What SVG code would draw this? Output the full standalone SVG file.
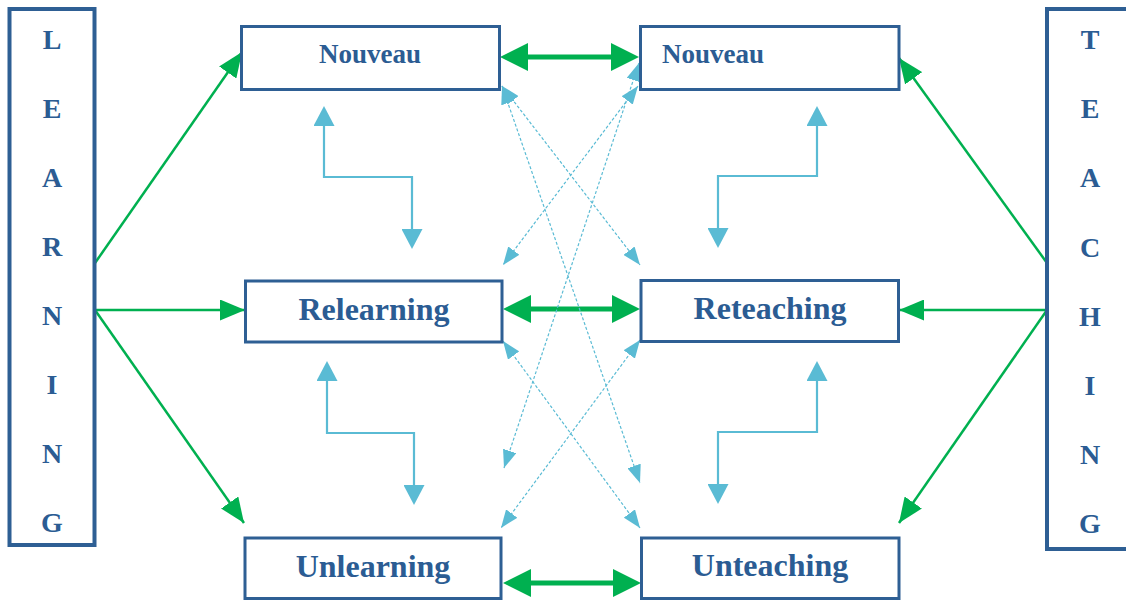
<svg xmlns="http://www.w3.org/2000/svg" width="1126" height="602" viewBox="0 0 1126 602">
<style>
.frame{fill:#fff;stroke:#2E5F94;stroke-width:4}
.box{fill:#fff;stroke:#2E5F94;stroke-width:3}
.vl{font-family:"Liberation Serif",serif;font-weight:bold;font-size:28px;fill:#2B5C93;text-anchor:middle}
.lbl{font-family:"Liberation Serif",serif;font-weight:bold;font-size:32px;fill:#2B5C93;text-anchor:middle}
.nv{font-family:"Liberation Serif",serif;font-weight:bold;font-size:27px;fill:#2B5C93}
.g{fill:none;stroke:#00B050;stroke-width:2.5;marker-end:url(#gh)}
.gt{fill:none;stroke:#00B050;stroke-width:5;marker-start:url(#gth);marker-end:url(#gth)}
.b{fill:none;stroke:#5ABBD4;stroke-width:2.2;marker-start:url(#bh);marker-end:url(#bh)}
.d{fill:none;stroke:#5ABBD4;stroke-width:1.2;stroke-dasharray:3 2;marker-start:url(#dh);marker-end:url(#dh)}
</style>
<defs>
<marker id="gh" markerUnits="userSpaceOnUse" markerWidth="25" markerHeight="21" refX="25" refY="10.5" orient="auto"><path d="M0,0 L25,10.5 L0,21 z" fill="#00B050"/></marker>
<marker id="gth" markerUnits="userSpaceOnUse" markerWidth="28" markerHeight="28" refX="20" refY="14" orient="auto-start-reverse"><path d="M0,0 L28,14 L0,28 z" fill="#00B050"/></marker>
<marker id="bh" markerUnits="userSpaceOnUse" markerWidth="20" markerHeight="21" refX="10" refY="10.5" orient="auto-start-reverse"><path d="M0,0 L20,10.5 L0,21 z" fill="#5ABBD4"/></marker>
<marker id="dh" markerUnits="userSpaceOnUse" markerWidth="18" markerHeight="14" refX="18" refY="7" orient="auto-start-reverse"><path d="M0,0 L18,7 L0,14 z" fill="#5ABBD4"/></marker>
</defs>
<rect width="1126" height="602" fill="#fff"/>
<g id="connectors">
<path class="g" d="M95,263 L242,52"/>
<path class="g" d="M95,310 L245,310"/>
<path class="g" d="M95,310 L244,523"/>
<path class="g" d="M1047,263 L899,58"/>
<path class="g" d="M1047,310 L899,310"/>
<path class="g" d="M1047,310 L899,523"/>
<path class="gt" d="M508,57 L631,57"/>
<path class="gt" d="M511,309 L632,309"/>
<path class="gt" d="M511,583 L633,583"/>
<path class="b" d="M324,116 V177 H412 V239"/>
<path class="b" d="M327,371 V433 H414 V495"/>
<path class="b" d="M817,116 V176 H718 V238"/>
<path class="b" d="M817,371 V432 H718 V494"/>
<path class="d" d="M502,86 L640,265"/>
<path class="d" d="M502,86 L640,483"/>
<path class="d" d="M639,63 L504,468"/>
<path class="d" d="M638,86 L503,265"/>
<path class="d" d="M503,341 L640,528"/>
<path class="d" d="M640,340 L501,528"/>
</g>
<g id="learning">
<rect class="frame" x="9.5" y="9" width="85" height="536"/>
<text class="vl" x="52" y="49">L</text>
<text class="vl" x="52" y="118">E</text>
<text class="vl" x="52" y="187">A</text>
<text class="vl" x="52" y="256">R</text>
<text class="vl" x="52" y="325">N</text>
<text class="vl" x="52" y="394">I</text>
<text class="vl" x="52" y="463">N</text>
<text class="vl" x="52" y="532">G</text>
</g>
<g id="teaching">
<rect class="frame" x="1047" y="9" width="86" height="540"/>
<text class="vl" x="1090" y="49">T</text>
<text class="vl" x="1090" y="118">E</text>
<text class="vl" x="1090" y="187">A</text>
<text class="vl" x="1090" y="257">C</text>
<text class="vl" x="1090" y="326">H</text>
<text class="vl" x="1090" y="395">I</text>
<text class="vl" x="1090" y="464">N</text>
<text class="vl" x="1090" y="533">G</text>
</g>
<g id="nouveau-left">
<rect class="box" x="241.5" y="26.5" width="258" height="63"/>
<text class="nv" x="370" y="63" text-anchor="middle">Nouveau</text>
</g>
<g id="nouveau-right">
<rect class="box" x="640.5" y="26.5" width="258.5" height="63"/>
<text class="nv" x="662" y="63">Nouveau</text>
</g>
<g id="relearning">
<rect class="box" x="245.5" y="281" width="256.5" height="61"/>
<text class="lbl" x="374" y="320">Relearning</text>
</g>
<g id="reteaching">
<rect class="box" x="641" y="280.5" width="257.5" height="61"/>
<text class="lbl" x="770" y="319">Reteaching</text>
</g>
<g id="unlearning">
<rect class="box" x="245" y="538" width="256" height="60.5"/>
<text class="lbl" x="373" y="577">Unlearning</text>
</g>
<g id="unteaching">
<rect class="box" x="641.5" y="538" width="257.5" height="60.5"/>
<text class="lbl" x="770" y="576">Unteaching</text>
</g>
</svg>
